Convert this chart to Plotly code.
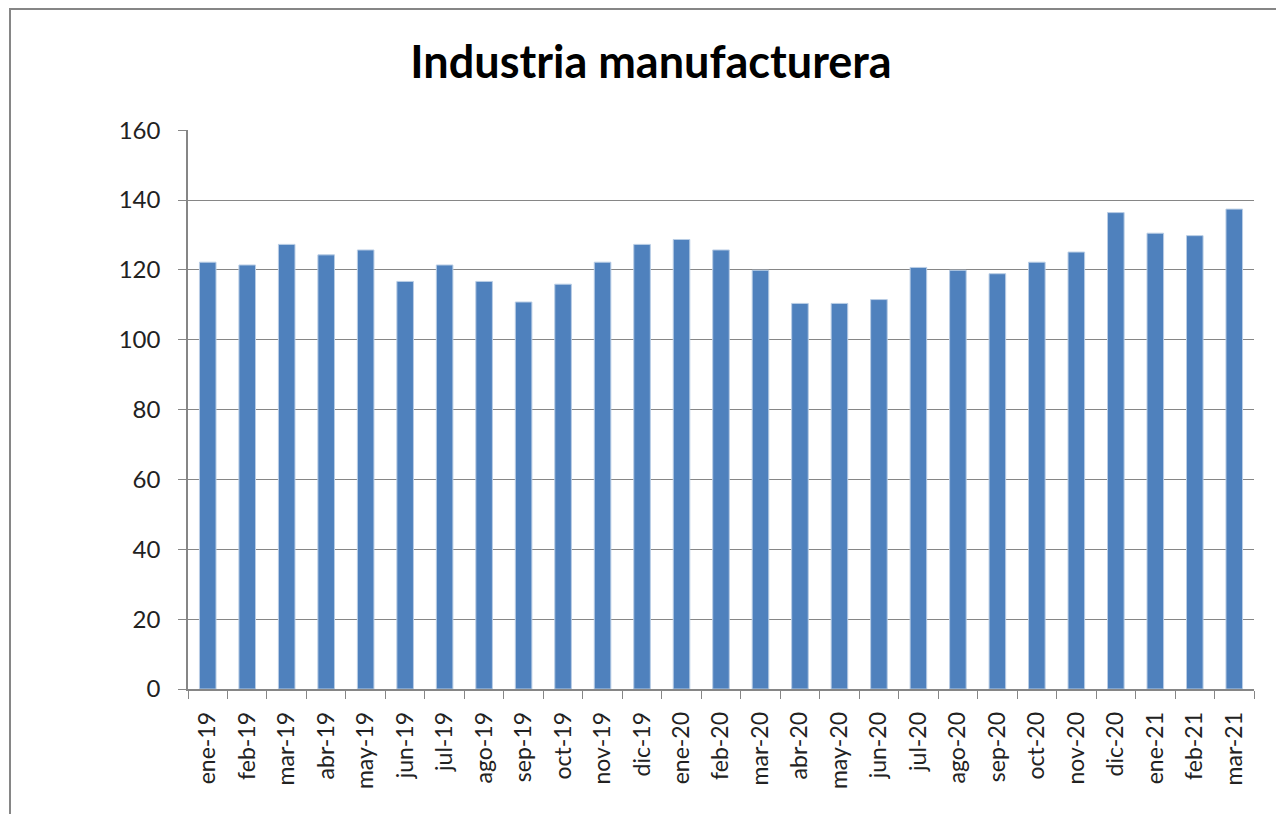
import plotly.graph_objects as go

# datos
meses = ['ene-19', 'feb-19', 'mar-19', 'abr-19', 'may-19', 'jun-19', 'jul-19',
         'ago-19', 'sep-19', 'oct-19', 'nov-19', 'dic-19', 'ene-20', 'feb-20',
         'mar-20', 'abr-20', 'may-20', 'jun-20', 'jul-20', 'ago-20', 'sep-20',
         'oct-20', 'nov-20', 'dic-20', 'ene-21', 'feb-21', 'mar-21']
valores = [122.2, 121.4, 127.3, 124.3, 125.7, 116.7, 121.4, 116.7, 110.8, 115.9,
           122.2, 127.3, 128.7, 125.7, 119.9, 110.4, 110.4, 111.5, 120.7, 119.9,
           118.9, 122.2, 125.1, 136.4, 130.5, 129.8, 137.4]
y_ticks = [0, 20, 40, 60, 80, 100, 120, 140, 160]

fig = go.Figure()
fig.add_trace(go.Bar(
    x=meses,
    y=valores,
    marker=dict(color='#4F81BD', line=dict(color='#B9CDE5', width=1)),
))

# la página tiene 8px de margen en el body
W, H = 1276, 806
L, R, T, B = 180, 30, 122, 125
pw, ph = W - L - R, H - T - B

# marco exterior del gráfico (sale por la derecha y por abajo)
fig.add_shape(type='rect', xref='paper', yref='paper',
              x0=(2 - L) / pw, x1=(W + 40 - L) / pw,
              y0=-(B + 30) / ph, y1=(H - B - 1) / ph,
              line=dict(color='#868686', width=2), fillcolor='rgba(0,0,0,0)')

fig.update_layout(
    width=W, height=H,
    margin=dict(l=L, r=R, t=T, b=B),
    paper_bgcolor='white',
    plot_bgcolor='white',
    bargap=0.58,
    showlegend=False,
    font=dict(family='Lato, Open Sans, sans-serif', color='#222222'),
    title=dict(text='<b>Industria manufacturera</b>', x=643 / W, xanchor='center',
               y=1 - 54 / H, yanchor='middle',
               font=dict(size=45, color='black', family='Lato, Open Sans, sans-serif')),
)
fig.update_xaxes(
    type='category',
    tickangle=-90,
    tickfont=dict(size=23),
    showline=True, linecolor='#868686', linewidth=1.5,
    ticks='outside', tickson='boundaries', ticklen=8, tickcolor='#868686',
    ticklabelstandoff=12,
    showgrid=False,
)
fig.update_yaxes(
    range=[0, 160.05],
    tickvals=y_ticks,
    tickfont=dict(size=24),
    showline=True, linecolor='#868686', linewidth=1.5,
    ticks='outside', ticklen=8, tickcolor='#868686',
    ticklabelstandoff=13,
    showgrid=True, gridcolor='#868686', gridwidth=1,
    zeroline=False,
)

fig.write_html("out.html")
